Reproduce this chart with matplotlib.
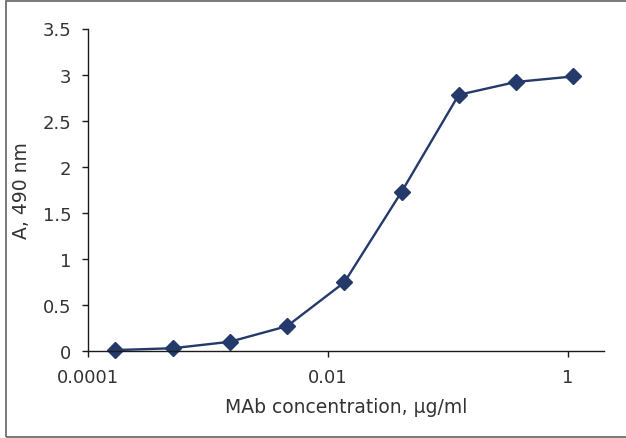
import matplotlib
matplotlib.use("Agg")
import matplotlib.pyplot as plt
from matplotlib.patches import Rectangle
from matplotlib.ticker import FixedLocator, FixedFormatter, NullLocator

concentration = [0.000169, 0.000508, 0.00152, 0.00457, 0.0137, 0.0412, 0.123, 0.370, 1.11]
absorbance = [0.01, 0.03, 0.10, 0.27, 0.745, 1.73, 2.78, 2.92, 2.98]
x_ticks = [0.0001, 0.01, 1]
x_tick_labels = ["0.0001", "0.01", "1"]
y_ticks = [0, 0.5, 1, 1.5, 2, 2.5, 3, 3.5]
y_tick_labels = ["0", "0.5", "1", "1.5", "2", "2.5", "3", "3.5"]

plt.rcParams['font.family'] = ['DejaVu Sans']
color = "#243a6b"
text_color = "#333333"

W, H = 626, 439
fig = plt.figure(figsize=(W / 100, H / 100), dpi=100)
ax = fig.add_axes([88 / W, 1 - 352 / H, (604 - 88) / W, (352 - 29.5) / H])

ax.plot(concentration, absorbance, color=color, lw=1.7, marker="D",
        markersize=8, markerfacecolor=color, markeredgecolor=color, clip_on=False)

ax.set_xscale("log")
ax.set_xlim(1e-4, 2)
ax.set_ylim(0, 3.5)
ax.xaxis.set_major_locator(FixedLocator(x_ticks))
ax.xaxis.set_major_formatter(FixedFormatter(x_tick_labels))
ax.xaxis.set_minor_locator(NullLocator())
ax.set_yticks(y_ticks)
ax.set_yticklabels(y_tick_labels)

for s in ["top", "right"]:
    ax.spines[s].set_visible(False)
for s in ["left", "bottom"]:
    ax.spines[s].set_color("#1a1a1a")
    ax.spines[s].set_linewidth(1.0)

ax.tick_params(axis="both", direction="out", length=4, width=1.0, color="#1a1a1a",
               labelsize=13, labelcolor=text_color)
ax.tick_params(axis="x", pad=8)
ax.tick_params(axis="y", pad=8)

ax.set_xlabel("MAb concentration, µg/ml", fontsize=13.5, color=text_color)
ax.set_ylabel("A, 490 nm", fontsize=13.5, color=text_color)
ax.xaxis.set_label_coords(0.5, 1 - (408 - 29.5) / (352 - 29.5), transform=ax.transAxes)
ax.xaxis.label.set_va("center")
ax.yaxis.set_label_coords((22 - 88) / (604 - 88), 0.5, transform=ax.transAxes)
ax.yaxis.label.set_va("center")

# figure border
fig.patches.append(Rectangle((6 / W, 1 - 437.5 / H), 1.0, (437.5 - 1.5) / H,
                             transform=fig.transFigure, fill=False,
                             edgecolor="#6e6e6e", linewidth=1.3))

fig.savefig("out.png", dpi=100)
